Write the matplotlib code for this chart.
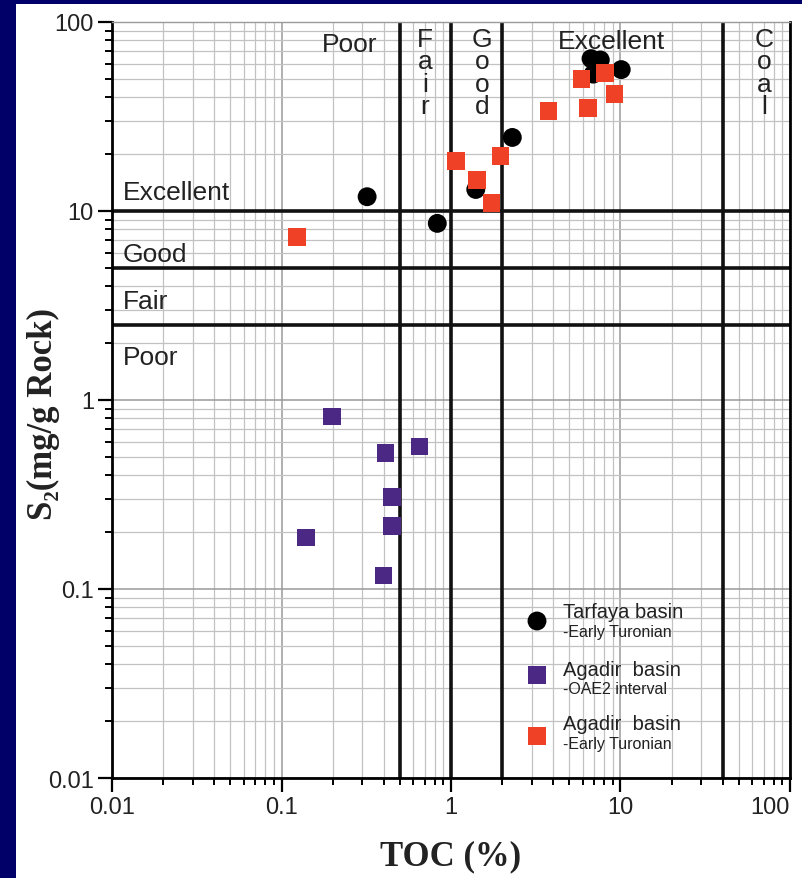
import numpy as np
import matplotlib
matplotlib.use("Agg")
import matplotlib.pyplot as plt
from matplotlib.patches import Rectangle
from matplotlib.ticker import FixedLocator, LogLocator, FuncFormatter, NullFormatter

# TOC (%) and S2 (mg/g rock) for each sample group
tarfaya_toc = [0.32, 0.83, 1.40, 2.30, 6.7, 7.6, 6.9, 10.1]
tarfaya_s2 = [11.9, 8.6, 13.0, 24.5, 64.0, 63.0, 53.0, 56.0]

agadir_oae2_toc = [0.199, 0.41, 0.65, 0.449, 0.45, 0.14, 0.40]
agadir_oae2_s2 = [0.82, 0.526, 0.567, 0.306, 0.216, 0.187, 0.118]

agadir_et_toc = [0.123, 1.07, 1.42, 1.73, 1.96, 3.77, 5.87, 6.43, 8.13, 9.24]
agadir_et_s2 = [7.3, 18.4, 14.6, 11.0, 19.6, 33.7, 50.0, 35.0, 53.8, 41.7]

# source-rock class boundaries
toc_bounds = [0.5, 1, 2, 40]
s2_bounds = [10, 5, 2.5]

toc_classes = ["Poor", "Fair", "Good", "Excellent", "Coal"]
s2_classes = ["Excellent", "Good", "Fair", "Poor"]

decades = [0.01, 0.1, 1, 10, 100]

legend_titles = ["Tarfaya basin", "Agadir  basin", "Agadir  basin"]
legend_subs = ["-Early Turonian", "-OAE2 interval", "-Early Turonian"]

sans = ["Liberation Sans", "DejaVu Sans"]
serif = ["Liberation Serif", "DejaVu Serif"]

W, H = 803, 879
fig = plt.figure(figsize=(W / 100, H / 100), dpi=100)
fig.patch.set_facecolor("#000068")
fig.add_artist(Rectangle((16 / W, 0), 1, 1 - 5 / H, transform=fig.transFigure,
                         facecolor="white", edgecolor="none", zorder=0))

L, R, T, B = 112, 790, 23, 779
ax = fig.add_axes([L / W, 1 - B / H, (R - L) / W, (B - T) / H])
ax.set_facecolor("white")
ax.set_xscale("log")
ax.set_yscale("log")
ax.set_xlim(decades[0], decades[-1])
ax.set_ylim(decades[0], decades[-1])


def px(x, y):
    # pixel position -> axes fraction
    return (x - L) / (R - L), (B - y) / (B - T)


for a in (ax.xaxis, ax.yaxis):
    a.set_major_locator(FixedLocator(decades))
    a.set_minor_locator(LogLocator(base=10, subs=np.arange(2, 10), numticks=20))
    a.set_major_formatter(FuncFormatter(lambda v, p: f"{v:g}"))
    a.set_minor_formatter(NullFormatter())

ax.grid(which="minor", color="#c2c2c2", lw=0.9, zorder=1)
ax.grid(which="major", color="#9a9a9a", lw=1.1, zorder=1)
ax.set_axisbelow(True)

ax.tick_params(which="major", direction="out", length=10, width=1.6,
               labelsize=17, pad=3, color="black")
ax.tick_params(which="minor", direction="out", length=5, width=1.4, color="black")

fig.canvas.draw()
for lab in ax.get_xticklabels() + ax.get_yticklabels():
    lab.set_family(sans)
    lab.set_color("#222222")
# keep the last TOC label inside the panel
ax.xaxis.get_major_ticks()[-1].label1.set_horizontalalignment("right")

for side in ("left", "bottom", "right"):
    ax.spines[side].set_linewidth(2.0)
    ax.spines[side].set_color("black")
ax.spines["top"].set_color("#9a9a9a")
ax.spines["top"].set_linewidth(1.0)

for v in toc_bounds:
    ax.axvline(v, color="#111111", lw=2.6, zorder=2)
for v in s2_bounds:
    ax.axhline(v, color="#111111", lw=2.6, zorder=2)

ax.scatter(tarfaya_toc, tarfaya_s2, s=185, marker="o", color="black",
           edgecolors="none", zorder=3)
ax.scatter(agadir_oae2_toc, agadir_oae2_s2, s=160, marker="s", color="#4a2884",
           edgecolors="none", zorder=4)
ax.scatter(agadir_et_toc, agadir_et_s2, s=160, marker="s", color="#ee4126",
           edgecolors="none", zorder=4)

# TOC classes along the top
tfs = 19
x, y = px(350, 45)
ax.text(x, y, toc_classes[0], transform=ax.transAxes, ha="center", va="center",
        fontsize=tfs, family=sans, color="#222222", zorder=5)
x, y = px(612, 42)
ax.text(x, y, toc_classes[3], transform=ax.transAxes, ha="center", va="center",
        fontsize=tfs, family=sans, color="#222222", zorder=5)
for name, cx in ((toc_classes[1], 425), (toc_classes[2], 482), (toc_classes[4], 764)):
    for i, ch in enumerate(name):
        x, y = px(cx, 40 + 22.5 * i)
        ax.text(x, y, ch, transform=ax.transAxes, ha="center", va="center",
                fontsize=tfs, family=sans, color="#222222", zorder=5)

# S2 classes on the left
for name, cy in zip(s2_classes, (193, 255, 302, 358)):
    x, y = px(123, cy)
    ax.text(x, y, name, transform=ax.transAxes, ha="left", va="center",
            fontsize=tfs, family=sans, color="#222222", zorder=5)

# legend
markers = [("o", "black", 185), ("s", "#4a2884", 160), ("s", "#ee4126", 160)]
rows = [(613, 633, 622), (671, 689, 676), (725, 745, 737)]
for (mk, col, sz), (ty, sy, my), title, sub in zip(markers, rows, legend_titles, legend_subs):
    x, y = px(537, my)
    ax.scatter([x], [y], s=sz, marker=mk, color=col, edgecolors="none",
               transform=ax.transAxes, zorder=5, clip_on=False)
    x, y = px(563, ty)
    ax.text(x, y, title, transform=ax.transAxes, ha="left", va="center",
            fontsize=14.5, family=sans, color="#222222", zorder=5)
    x, y = px(563, sy)
    ax.text(x, y, sub, transform=ax.transAxes, ha="left", va="center",
            fontsize=11.5, family=sans, color="#222222", zorder=5)

ax.set_xlabel("TOC (%)", fontsize=25, fontweight="bold", family=serif,
              color="#222222", va="center")
ax.xaxis.set_label_coords(*px(451, 857))
ax.set_ylabel("S\u2082(mg/g Rock)", fontsize=25, fontweight="bold", family=serif,
              color="#222222", va="center")
ax.yaxis.set_label_coords(*px(43, 414))

fig.savefig("out.png", dpi=100, facecolor=fig.get_facecolor())
